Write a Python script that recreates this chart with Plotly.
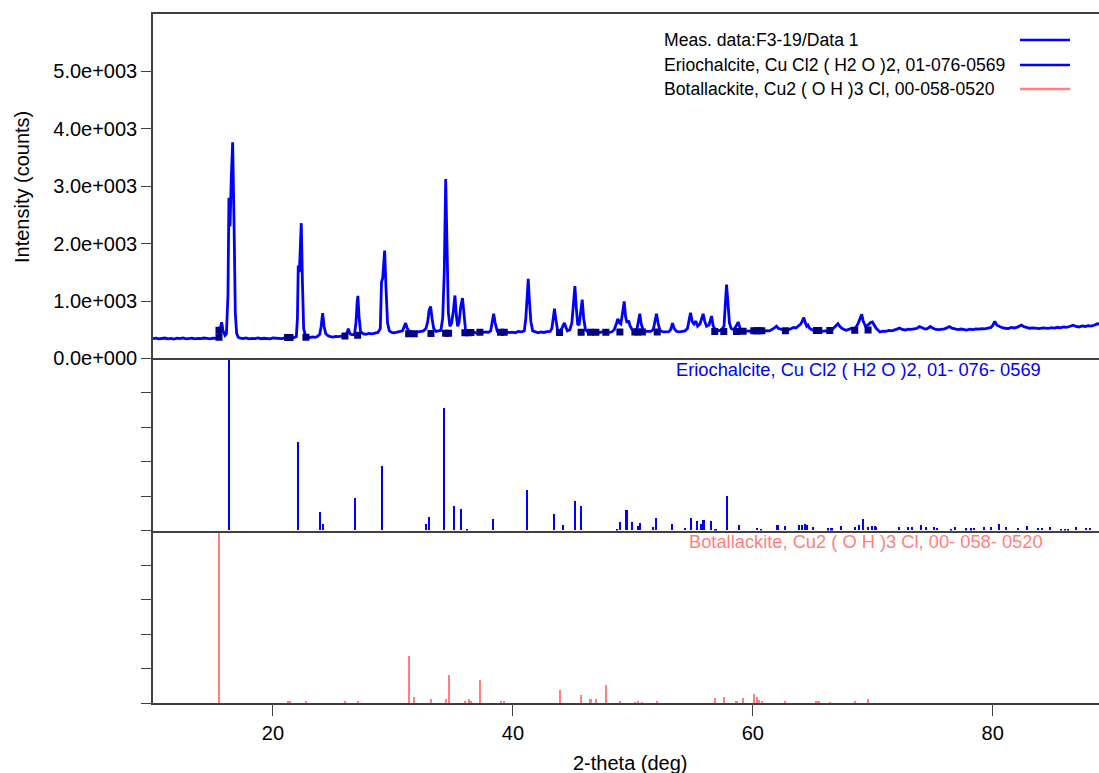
import plotly.graph_objects as go

# ---------------- data ----------------
meas_two_theta = [
    10.0, 10.25, 10.5, 10.75, 11.0, 11.25, 11.5, 11.75, 12.0, 12.25, 12.5, 12.75, 13.0, 13.25, 13.5, 13.75,
    14.0, 14.25, 14.5, 14.75, 15.0, 15.25, 15.45, 15.6, 15.72, 15.85, 16.0, 16.12, 16.25, 16.33, 16.42, 16.52,
    16.64, 16.76, 16.86, 16.97, 17.1, 17.3, 17.5, 17.75, 18.0, 18.25, 18.5, 18.75, 19.0, 19.25, 19.5, 19.75,
    20.0, 20.25, 20.5, 20.75, 21.0, 21.25, 21.5, 21.75, 21.95, 22.04, 22.11, 22.2, 22.28, 22.36, 22.46, 22.56,
    22.7, 22.9, 23.1, 23.3, 23.5, 23.7, 23.9, 24.02, 24.14, 24.26, 24.4, 24.6, 24.8, 25.0, 25.25, 25.5,
    25.75, 26.0, 26.15, 26.28, 26.42, 26.6, 26.8, 26.92, 27.02, 27.08, 27.18, 27.3, 27.5, 27.75, 28.0, 28.25,
    28.5, 28.75, 28.95, 29.05, 29.15, 29.25, 29.31, 29.42, 29.55, 29.7, 29.9, 30.1, 30.3, 30.55, 30.8, 30.95,
    31.06, 31.18, 31.35, 31.6, 31.85, 32.1, 32.35, 32.55, 32.75, 32.9, 33.02, 33.14, 33.26, 33.4, 33.6, 33.8,
    34.0, 34.15, 34.28, 34.4, 34.5, 34.62, 34.75, 34.9, 35.05, 35.17, 35.28, 35.4, 35.52, 35.65, 35.8, 35.92,
    36.05, 36.2, 36.45, 36.7, 36.95, 37.2, 37.45, 37.7, 37.95, 38.15, 38.28, 38.4, 38.52, 38.7, 38.95, 39.2,
    39.45, 39.7, 39.95, 40.2, 40.45, 40.7, 40.95, 41.08, 41.2, 41.28, 41.38, 41.5, 41.65, 41.85, 42.1, 42.35,
    42.6, 42.85, 43.1, 43.25, 43.38, 43.47, 43.58, 43.72, 43.9, 44.08, 44.2, 44.3, 44.42, 44.55, 44.75, 44.92,
    45.06, 45.17, 45.28, 45.4, 45.52, 45.65, 45.78, 45.9, 46.05, 46.25, 46.5, 46.75, 47.0, 47.25, 47.5, 47.75,
    48.0, 48.25, 48.45, 48.62, 48.75, 48.88, 49.0, 49.15, 49.28, 49.4, 49.52, 49.64, 49.78, 49.95, 50.15, 50.35,
    50.48, 50.58, 50.7, 50.85, 51.05, 51.3, 51.5, 51.7, 51.85, 51.97, 52.1, 52.25, 52.5, 52.75, 53.0, 53.15,
    53.31, 53.45, 53.65, 53.9, 54.1, 54.35, 54.55, 54.7, 54.81, 54.95, 55.1, 55.25, 55.4, 55.6, 55.75, 55.86,
    56.0, 56.15, 56.35, 56.48, 56.56, 56.7, 56.9, 57.15, 57.4, 57.6, 57.72, 57.81, 57.92, 58.05, 58.2, 58.4,
    58.6, 58.78, 58.95, 59.15, 59.4, 59.65, 59.9, 60.15, 60.4, 60.65, 60.9, 61.15, 61.4, 61.6, 61.8, 61.97,
    62.15, 62.4, 62.6, 62.8, 63.0, 63.2, 63.4, 63.6, 63.8, 64.0, 64.12, 64.25, 64.38, 64.5, 64.6, 64.75,
    65.0, 65.3, 65.55, 65.8, 66.05, 66.3, 66.55, 66.8, 66.95, 67.1, 67.25, 67.45, 67.65, 67.8, 68.0, 68.2,
    68.4, 68.6, 68.8, 68.95, 69.08, 69.2, 69.4, 69.6, 69.8, 69.97, 70.1, 70.3, 70.6, 70.85, 71.1, 71.35,
    71.6, 71.85, 72.1, 72.25, 72.45, 72.7, 72.95, 73.2, 73.45, 73.7, 73.9, 74.1, 74.35, 74.55, 74.8, 75.0,
    75.25, 75.5, 75.75, 76.0, 76.2, 76.4, 76.6, 76.85, 77.1, 77.35, 77.6, 77.85, 78.1, 78.35, 78.6, 78.85,
    79.1, 79.35, 79.6, 79.85, 80.0, 80.17, 80.35, 80.55, 80.8, 81.05, 81.3, 81.55, 81.8, 82.05, 82.25, 82.4,
    82.6, 82.85, 83.1, 83.35, 83.6, 83.9, 84.15, 84.4, 84.65, 84.9, 85.15, 85.4, 85.65, 85.9, 86.15, 86.4,
    86.7, 86.95, 87.2, 87.45, 87.7, 87.95, 88.2, 88.45, 88.75, 88.86,
]
meas_counts = [
    345, 352, 340, 348, 355, 342, 350, 338, 352, 345, 356, 340, 348, 353, 341, 350,
    344, 355, 347, 340, 352, 348, 365, 520, 630, 470, 400, 430, 1100, 2800, 2300, 3100,
    3765, 2300, 800, 440, 370, 352, 345, 356, 342, 350, 346, 357, 343, 351, 348, 340,
    355, 347, 352, 343, 356, 348, 353, 360, 380, 700, 1620, 1500, 1900, 2356, 1300, 520,
    400, 372, 365, 375, 368, 380, 420, 560, 790, 560, 430, 395, 380, 372, 385, 378,
    390, 400, 430, 517, 430, 412, 420, 620, 980, 1090, 720, 470, 432, 420, 435, 428,
    440, 452, 520, 1330, 1400, 1700, 1880, 1250, 620, 480, 452, 445, 458, 462, 480, 560,
    615, 530, 470, 455, 448, 462, 470, 480, 520, 640, 840, 905, 700, 520, 470, 485,
    490, 700, 1500, 3126, 2000, 800, 560, 620, 850, 1096, 760, 560, 640, 900, 1050, 700,
    500, 455, 445, 460, 440, 452, 448, 460, 455, 480, 640, 779, 620, 470, 455, 448,
    462, 450, 458, 445, 470, 462, 480, 700, 1100, 1386, 1000, 640, 480, 458, 445, 460,
    452, 465, 470, 520, 740, 866, 680, 500, 470, 520, 580, 616, 540, 480, 500, 620,
    980, 1260, 900, 600, 580, 800, 1023, 700, 500, 462, 455, 448, 460, 452, 465, 455,
    448, 465, 500, 600, 690, 620, 600, 800, 993, 720, 620, 660, 560, 500, 480, 520,
    680, 779, 600, 500, 470, 465, 470, 500, 640, 779, 620, 490, 462, 470, 465, 500,
    616, 520, 470, 462, 475, 480, 520, 700, 797, 640, 600, 650, 560, 600, 700, 775,
    640, 560, 580, 700, 737, 560, 500, 480, 500, 560, 900, 1284, 1000, 620, 520, 500,
    560, 634, 520, 480, 470, 478, 465, 482, 470, 478, 468, 485, 480, 500, 530, 560,
    520, 505, 492, 489, 500, 520, 540, 530, 560, 600, 650, 710, 620, 560, 580, 520,
    490, 477, 485, 470, 480, 472, 490, 540, 580, 605, 560, 520, 500, 490, 505, 520,
    510, 540, 620, 720, 767, 650, 560, 580, 620, 634, 580, 520, 460, 475, 470, 488,
    480, 500, 515, 528, 505, 495, 510, 505, 515, 525, 555, 530, 512, 518, 555, 528,
    505, 500, 508, 515, 535, 555, 528, 508, 502, 512, 498, 494, 508, 503, 515, 510,
    520, 515, 526, 540, 575, 645, 578, 555, 535, 525, 520, 540, 530, 545, 560, 579,
    552, 535, 525, 530, 522, 518, 532, 526, 522, 536, 528, 542, 532, 548, 542, 556,
    578, 556, 548, 566, 556, 572, 562, 578, 605, 588,
]

erio_two_theta = [
    16.33, 22.11, 23.92, 24.14, 26.83, 29.08, 32.75, 32.97, 34.25, 35.06, 35.67, 36.14, 38.31, 41.17,
    43.39, 44.19, 45.14, 45.69, 48.64, 48.92, 49.47, 49.94, 50.39, 50.61, 51.72, 51.97, 53.28, 54.33,
    54.83, 55.31, 55.67, 55.89, 56.53, 56.89, 57.83, 58.81, 60.31, 60.69, 62.06, 62.67, 63.86, 64.1,
    64.39, 64.53, 65.03, 66.25, 66.56, 67.33, 68.53, 68.89, 69.19, 69.61, 69.97, 70.17, 70.31, 72.17,
    72.94, 73.28, 74.06, 74.47, 75.14, 75.39, 76.56, 76.86, 77.81, 78.22, 78.44, 79.25, 79.89, 80.5,
    81.14, 82.11, 82.83, 83.78, 84.11, 84.81, 85.67, 86.06, 86.28, 86.92, 87.81, 88.08,
]
erio_rel_int = [
    100, 51, 10.5, 3.8, 18.8, 37.4, 3.5, 7.9, 71, 14.1, 12.2, 0.8, 6.6, 23.2,
    9.5, 3.3, 17.2, 14.1, 0.8, 5, 11.8, 4.8, 2.7, 4.2, 2.1, 7, 3.7, 1.5,
    6.8, 5.2, 3.7, 6, 5.4, 0.8, 20, 3, 1.2, 0.8, 3, 2.5, 3, 3.2,
    3.5, 3, 2, 1, 1, 2.7, 1.9, 2.8, 6.5, 2, 2.7, 2.5, 2, 2,
    2, 1.9, 2.9, 1.6, 2, 1.2, 0.8, 1.6, 1, 1, 1.2, 1.9, 2, 3.5,
    1.6, 1.2, 2.7, 1.2, 1.2, 1.6, 0.8, 0.8, 0.8, 2, 1.2, 1.2,
]

bota_two_theta = [
    15.5, 21.22, 21.42, 22.75, 26.0, 27.06, 31.31, 31.78, 33.17, 34.39, 34.64, 36.0, 36.33, 36.5,
    37.25, 38.97, 39.28, 43.89, 45.69, 46.47, 46.92, 47.75, 48.92, 50.17, 50.39, 50.8, 52.03, 56.83,
    57.58, 58.64, 59.19, 60.08, 60.31, 60.53, 60.75, 62.72, 65.31, 65.5, 66.42, 68.5, 69.61,
]
bota_rel_int = [
    100, 1.4, 1.4, 1.4, 1.4, 1.4, 27.7, 3.9, 2.7, 2.7, 16.6, 1.4, 2.5, 1.4,
    13.7, 1.4, 1.4, 7.5, 4.6, 2.7, 2.7, 10.6, 1.4, 1.0, 1.4, 1.0, 1.4, 2.9,
    3.7, 1.4, 2.9, 5.6, 4.0, 1.9, 1.4, 1.4, 1.4, 1.4, 1.0, 1.4, 2.5,
]

# background-level position markers on the measured pattern
marker_two_theta = [15.5] + bota_two_theta
marker_counts = [
    490, 370, 362, 362, 369, 390, 405, 431, 431, 432, 438, 438, 445, 448, 450,
    455, 455, 455, 450, 455, 455, 455, 455, 458, 458, 458, 458, 458, 470,
    470, 470, 475, 480, 480, 480, 480, 480, 485, 485, 485, 490, 495,
]

y_tick_vals = [0, 1000, 2000, 3000, 4000, 5000]
y_tick_text = ["0.0e+000", "1.0e+003", "2.0e+003", "3.0e+003", "4.0e+003", "5.0e+003"]
x_tick_vals = [20, 40, 60, 80]

legend_labels = [
    "Meas. data:F3-19/Data 1",
    "Eriochalcite, Cu Cl2 ( H2 O )2, 01-076-0569",
    "Botallackite, Cu2 ( O H )3 Cl, 00-058-0520",
]
erio_label = "Eriochalcite, Cu Cl2 ( H2 O )2, 01- 076- 0569"
bota_label = "Botallackite, Cu2 ( O H )3 Cl, 00- 058- 0520"

# ---------------- styling ----------------
BLUE = "#0000FF"
SALMON = "#FF8080"
NAVY = "#000080"
AXIS = "#404040"
FONT = "Arial, Liberation Sans, sans-serif"

W, H = 1099, 773
L, R, T, B = 153, 0, 14, 70
PH = H - T - B
PW = W - L - R

def px_x(p):
    return (p - L) / PW

def px_y(p):
    return (H - B - p) / PH

d1 = 172.4 / PH
d2 = 344.6 / PH

fig = go.Figure()

fig.add_trace(go.Scatter(
    x=meas_two_theta, y=meas_counts, mode="lines",
    line=dict(color=BLUE, width=2.8), xaxis="x3", yaxis="y3", showlegend=False,
))
fig.add_trace(go.Scatter(
    x=marker_two_theta, y=marker_counts, mode="markers",
    marker=dict(symbol="square", size=7, color=NAVY, line=dict(width=0)),
    xaxis="x3", yaxis="y3", showlegend=False,
))
fig.add_trace(go.Bar(
    x=erio_two_theta, y=erio_rel_int, width=0.17,
    marker=dict(color=BLUE, line=dict(width=0)),
    xaxis="x2", yaxis="y2", showlegend=False,
))
fig.add_trace(go.Bar(
    x=bota_two_theta, y=bota_rel_int, width=0.17,
    marker=dict(color=SALMON, line=dict(width=0)),
    xaxis="x", yaxis="y", showlegend=False,
))

xr = [10.0, 88.86]
common_x = dict(range=xr, showgrid=False, zeroline=False, showline=True,
                linecolor=AXIS, linewidth=1.5)
common_y = dict(showgrid=False, zeroline=False, showline=True, linecolor=AXIS,
                linewidth=1.5, ticks="outside", ticklen=10, tickcolor=AXIS, tickwidth=1.2)

fig.update_layout(
    width=W, height=H,
    margin=dict(l=L, r=R, t=T, b=B, pad=0),
    paper_bgcolor="white", plot_bgcolor="white",
    barmode="overlay", bargap=0,
    font=dict(family=FONT, color="black"),
    xaxis=dict(**common_x, anchor="y", ticks="outside", ticklen=11, tickcolor=AXIS,
               tickwidth=1.2, tickvals=x_tick_vals, tickfont=dict(size=20, family=FONT)),
    xaxis2=dict(**common_x, anchor="y2", matches="x", showticklabels=False, ticks=""),
    xaxis3=dict(**common_x, anchor="y3", matches="x", showticklabels=False, ticks="",
                mirror=True),
    yaxis=dict(**common_y, domain=[0, d1], range=[0, 100], tickvals=[0, 20, 40, 60, 80, 100],
               showticklabels=False),
    yaxis2=dict(**common_y, domain=[d1, d2], range=[0, 100], tickvals=[0, 20, 40, 60, 80, 100],
                showticklabels=False),
    yaxis3=dict(**common_y, domain=[d2, 1], range=[0, 6000], tickvals=y_tick_vals,
                ticktext=y_tick_text, tickfont=dict(size=20, family=FONT)),
)

annotations = []
shapes = []
legend_colors = [BLUE, BLUE, SALMON]
legend_y_px = [40, 65, 89]
for lab, col, ypx in zip(legend_labels, legend_colors, legend_y_px):
    annotations.append(dict(
        text=lab, x=px_x(662), y=px_y(ypx), xref="paper", yref="paper",
        xanchor="left", yanchor="middle", showarrow=False,
        font=dict(size=17.6, family=FONT, color="black"),
    ))
    shapes.append(dict(
        type="line", xref="paper", yref="paper",
        x0=px_x(1020), x1=px_x(1070), y0=px_y(ypx), y1=px_y(ypx),
        line=dict(color=col, width=2.5),
    ))

annotations.append(dict(
    text=erio_label, x=px_x(858), y=px_y(369), xref="paper", yref="paper",
    xanchor="center", yanchor="middle", showarrow=False,
    font=dict(size=18.3, family=FONT, color=BLUE),
))
annotations.append(dict(
    text=bota_label, x=px_x(866), y=px_y(541), xref="paper", yref="paper",
    xanchor="center", yanchor="middle", showarrow=False,
    font=dict(size=18.3, family=FONT, color=SALMON),
))
annotations.append(dict(
    text="Intensity (counts)", x=px_x(22), y=px_y(187), xref="paper", yref="paper",
    xanchor="center", yanchor="middle", showarrow=False, textangle=-90,
    font=dict(size=20, family=FONT, color="black"),
))
annotations.append(dict(
    text="2-theta (deg)", x=px_x(630), y=px_y(763), xref="paper", yref="paper",
    xanchor="center", yanchor="middle", showarrow=False,
    font=dict(size=20, family=FONT, color="black"),
))

fig.update_layout(annotations=annotations, shapes=shapes)

fig.write_html(
    "out.html",
    config={"displayModeBar": False},
    post_script="document.body.style.margin='0';document.body.style.overflow='hidden';",
)
